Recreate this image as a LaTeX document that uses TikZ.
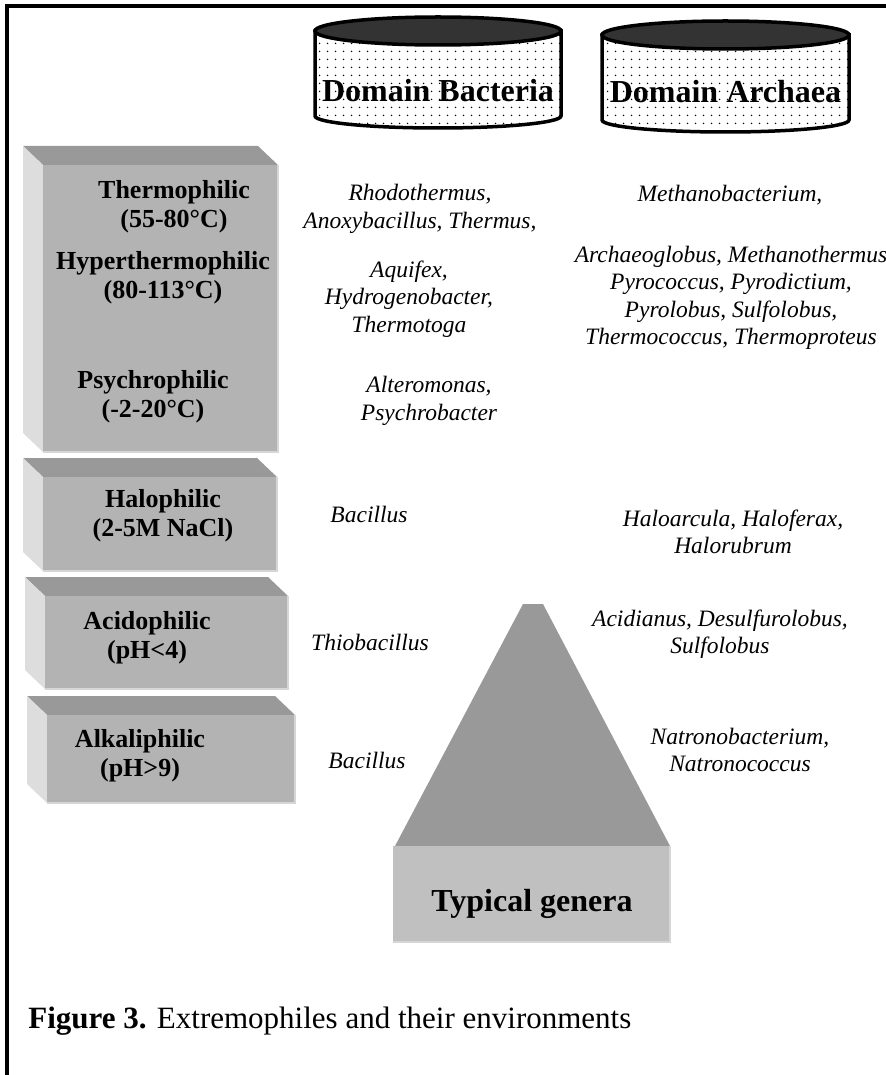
\documentclass[tikz,border=0pt]{standalone}
\usepackage{fontspec}
\setmainfont{Liberation Serif}
\usepackage{tikz}
\usetikzlibrary{patterns.meta}
\usepackage{xcolor}

\definecolor{topgray}{HTML}{999999}
\definecolor{sidegray}{HTML}{DDDDDD}
\definecolor{frontgray}{HTML}{B3B3B3}
\definecolor{rimgray}{HTML}{D6D6D6}
\definecolor{lidgray}{HTML}{333333}
\definecolor{basegray}{HTML}{C0C0C0}

\begin{document}
\begin{tikzpicture}[x=0.5pt, y=-0.5pt]
        % Define styles
        \tikzstyle{topface} = [fill=topgray]
        \tikzstyle{sideface} = [fill=sidegray]
        \tikzstyle{frontface} = [fill=frontgray]
        \tikzstyle{rim} = [draw=rimgray, line width=1pt]
        \tikzstyle{drum} = [draw, line width=1.75pt, preaction={fill=white}, pattern={Dots[distance=4pt, radius=0.45pt]}, pattern color=black]
        \tikzstyle{lid} = [draw, line width=1.75pt, fill=lidgray]
        \tikzstyle{domainlabel} = [font=\fontsize{16}{18}\selectfont\bfseries]
        \tikzstyle{envlabel} = [align=center, font=\fontsize{13}{14.5}\selectfont\bfseries]
        \tikzstyle{genus} = [align=center, font=\fontsize{11.75}{13.75}\selectfont\itshape]

        \useasboundingbox (0,0) rectangle (886,1075);
        \clip (0,0) rectangle (886,1075);

        % Frame
        \draw[line width=1.75pt] (7,1075) -- (7,6) -- (886,6);

        % Domain drums
        \path[drum] (315,31) -- (315,116) arc[start angle=180, end angle=360, x radius=61.5pt, y radius=6pt] -- (561,31) -- cycle;
        \draw[lid] (438,31) ellipse[x radius=61.5pt, y radius=7pt];
        \path[drum] (602,35) -- (602,120) arc[start angle=180, end angle=360, x radius=61.75pt, y radius=6pt] -- (849,35) -- cycle;
        \draw[lid] (725.5,35) ellipse[x radius=61.75pt, y radius=7pt];
        \node[domainlabel, anchor=base] (bact) at (438,102) {Domain Bacteria};
        \node[domainlabel, anchor=base] (arch) at (725.5,103) {Domain Archaea};

        % Environment blocks
        \fill[topface] (43,165) -- (23,146) -- (258,146) -- (278,165) -- cycle;
        \fill[sideface] (43,165) -- (23,146) -- (23,433) -- (43,452) -- cycle;
        \fill[frontface] (43,165) rectangle (278,452);
        \draw[rim] (278,165) -- (278,452) -- (43,452);

        \fill[topface] (43,477) -- (23,458) -- (257,458) -- (277,477) -- cycle;
        \fill[sideface] (43,477) -- (23,458) -- (23,552) -- (43,571) -- cycle;
        \fill[frontface] (43,477) rectangle (277,571);
        \draw[rim] (277,477) -- (277,571) -- (43,571);

        \fill[topface] (45,596) -- (25,577) -- (268,577) -- (288,596) -- cycle;
        \fill[sideface] (45,596) -- (25,577) -- (25,670) -- (45,689) -- cycle;
        \fill[frontface] (45,596) rectangle (288,689);
        \draw[rim] (288,596) -- (288,689) -- (45,689);

        \fill[topface] (47,715) -- (27,696) -- (275,696) -- (295,715) -- cycle;
        \fill[sideface] (47,715) -- (27,696) -- (27,784) -- (47,803) -- cycle;
        \fill[frontface] (47,715) rectangle (295,803);
        \draw[rim] (295,715) -- (295,803) -- (47,803);

        \node[envlabel] (thermo) at (174,207) {Thermophilic\\(55-80°C)};
        \node[envlabel] (hyper) at (163,278) {Hyperthermophilic\\(80-113°C)};
        \node[envlabel] (psychro) at (153,397) {Psychrophilic\\(-2-20°C)};
        \node[envlabel] (halo) at (163,516) {Halophilic\\(2-5M NaCl)};
        \node[envlabel] (acido) at (147,638) {Acidophilic\\(pH<4)};
        \node[envlabel] (alkali) at (140,756) {Alkaliphilic\\(pH>9)};

        % Pyramid
        \fill[topgray] (523,604) -- (543,604) -- (670,846) -- (395,846) -- cycle;
        \fill[basegray] (393,846) rectangle (670,942);
        \draw[rim] (670,846) -- (670,942) -- (393,942);
        \node[font=\fontsize{16}{18}\selectfont\bfseries] (typical) at (532,904) {Typical genera};

        % Genera
        \node[genus] (rhodo) at (420,209) {Rhodothermus,\\Anoxybacillus, Thermus,};
        \node[genus] (aquifex) at (409,299) {Aquifex,\\Hydrogenobacter,\\Thermotoga};
        \node[genus] (altero) at (429,401) {Alteromonas,\\Psychrobacter};
        \node[genus] (methano) at (730,195) {Methanobacterium,};
        \node[genus] (archaeo) at (731,298) {Archaeoglobus, Methanothermus\\Pyrococcus, Pyrodictium,\\Pyrolobus, Sulfolobus,\\Thermococcus, Thermoproteus};
        \node[genus] (bacil1) at (369,514) {Bacillus};
        \node[genus] (haloarc) at (733,532) {Haloarcula, Haloferax,\\Halorubrum};
        \node[genus] (thio) at (370,642) {Thiobacillus};
        \node[genus] (acidi) at (720,634) {Acidianus, Desulfurolobus,\\Sulfolobus};
        \node[genus] (bacil2) at (367,760) {Bacillus};
        \node[genus] (natro) at (740,750) {Natronobacterium,\\Natronococcus};

        % Caption
        \node[anchor=base west, inner sep=0pt, font=\fontsize{15.5}{18}\selectfont] (caption) at (28,1028) {\textbf{Figure 3.} Extremophiles and their environments};
\end{tikzpicture}
\end{document}
